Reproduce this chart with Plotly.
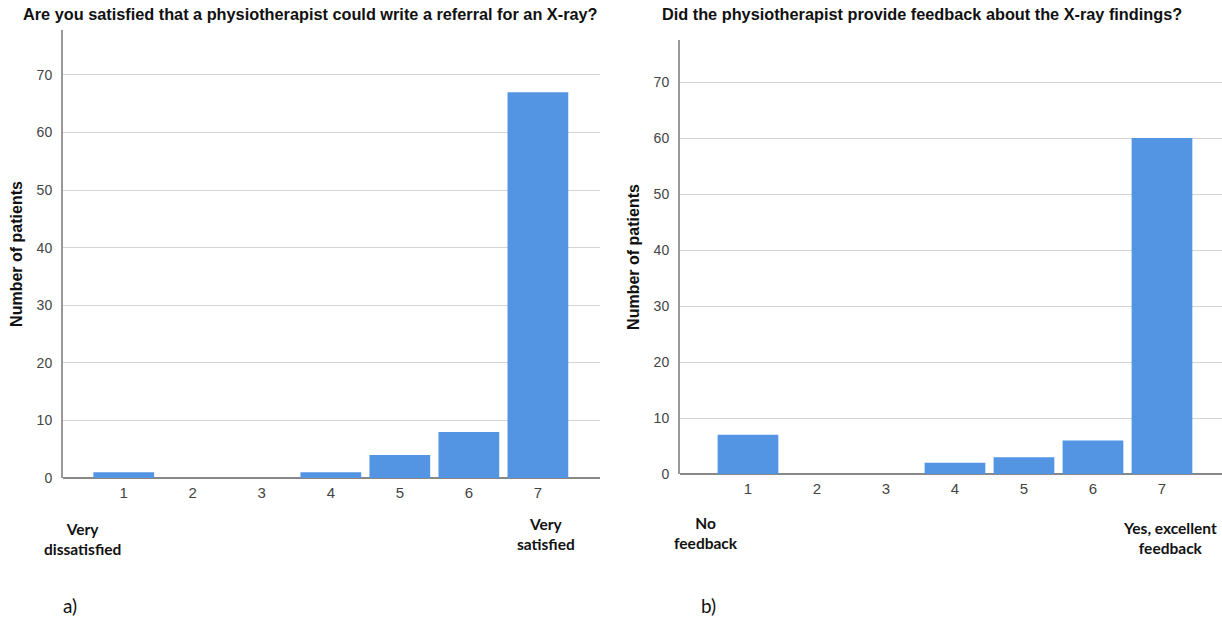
import plotly.graph_objects as go

categories = [1, 2, 3, 4, 5, 6, 7]
tick_labels = ["1", "2", "3", "4", "5", "6", "7"]
values_a = [1, 0, 0, 1, 4, 8, 67]
values_b = [7, 0, 0, 2, 3, 6, 60]
title_a = "Are you satisfied that a physiotherapist could write a referral for an X-ray?"
title_b = "Did the physiotherapist provide feedback about the X-ray findings?"
y_title = "Number of patients"
y_ticks = [0, 10, 20, 30, 40, 50, 60, 70]

W, H = 1222, 621
BAR = "#5394e3"

def px_x(v):
    return v / W

def px_y(v):
    return 1 - v / H

fig = go.Figure()
fig.add_trace(go.Bar(x=categories, y=values_a, marker=dict(color=BAR, line=dict(width=0)),
                     xaxis="x", yaxis="y", showlegend=False))
fig.add_trace(go.Bar(x=categories, y=values_b, marker=dict(color=BAR, line=dict(width=0)),
                     xaxis="x2", yaxis="y2", showlegend=False))

xtickfont = dict(family="Liberation Sans, Arial, sans-serif", size=15, color="#444")
ytickfont = dict(family="Liberation Sans, Arial, sans-serif", size=14, color="#444")
common_x = dict(tickmode="array", tickvals=categories, ticktext=tick_labels, showgrid=False,
                zeroline=False, showline=False, ticks="", tickfont=xtickfont, fixedrange=True,
                automargin=False, ticklabelstandoff=4)
common_y = dict(tickmode="array", tickvals=y_ticks, showgrid=True, gridcolor="#d4d4d4", gridwidth=1.3,
                zeroline=True, zerolinecolor="#888", zerolinewidth=2, showline=True, linecolor="#999",
                linewidth=2, ticks="", tickfont=ytickfont, ticklabelstandoff=6, automargin=False,
                title=dict(text="<b>" + y_title + "</b>",
                           font=dict(family="Liberation Sans, Arial, sans-serif", size=16, color="#111"),
                           standoff=10))

fig.update_layout(
    width=W, height=H, margin=dict(l=0, r=0, t=0, b=0, autoexpand=False),
    plot_bgcolor="white", paper_bgcolor="white", bargap=0.12,
    xaxis=dict(domain=[px_x(63), px_x(600)], range=[0.12, 7.9], anchor="y", **common_x),
    yaxis=dict(domain=[px_y(478), px_y(30)], range=[0, 77.8], anchor="x", **common_y),
    xaxis2=dict(domain=[px_x(680), 1.0], range=[0.015, 7.87], anchor="y2", **common_x),
    yaxis2=dict(domain=[px_y(474), px_y(40)], range=[0, 77.5], anchor="x2", **common_y),
)

tfont = dict(family="Liberation Sans, Arial, sans-serif", size=16.3, color="#111")
afont = dict(family="Lato, Open Sans, sans-serif", size=15.5, color="#111")
ann = [
    dict(text="<b>" + title_a + "</b>", x=px_x(310), y=px_y(14), font=tfont),
    dict(text="<b>" + title_b + "</b>", x=px_x(922), y=px_y(14), font=tfont),
    dict(text="<b>Very<br>dissatisfied</b>", x=px_x(82), y=px_y(539), font=afont),
    dict(text="<b>Very<br>satisfied</b>", x=px_x(546), y=px_y(534), font=afont),
    dict(text="<b>No<br>feedback</b>", x=px_x(706), y=px_y(533), font=afont),
    dict(text="<b>Yes, excellent<br>feedback</b>", x=px_x(1170), y=px_y(538), font=afont),
    dict(text="a)", x=px_x(70), y=px_y(605), font=dict(family="Lato, sans-serif", size=19, color="#111")),
    dict(text="b)", x=px_x(708), y=px_y(605), font=dict(family="Lato, sans-serif", size=19, color="#111")),
]
for a in ann:
    fig.add_annotation(xref="paper", yref="paper", showarrow=False, xanchor="center", yanchor="middle", **a)

fig.write_html("out.html", config={"displayModeBar": False},
               post_script="document.body.style.margin='0px';document.body.style.overflow='hidden';")
